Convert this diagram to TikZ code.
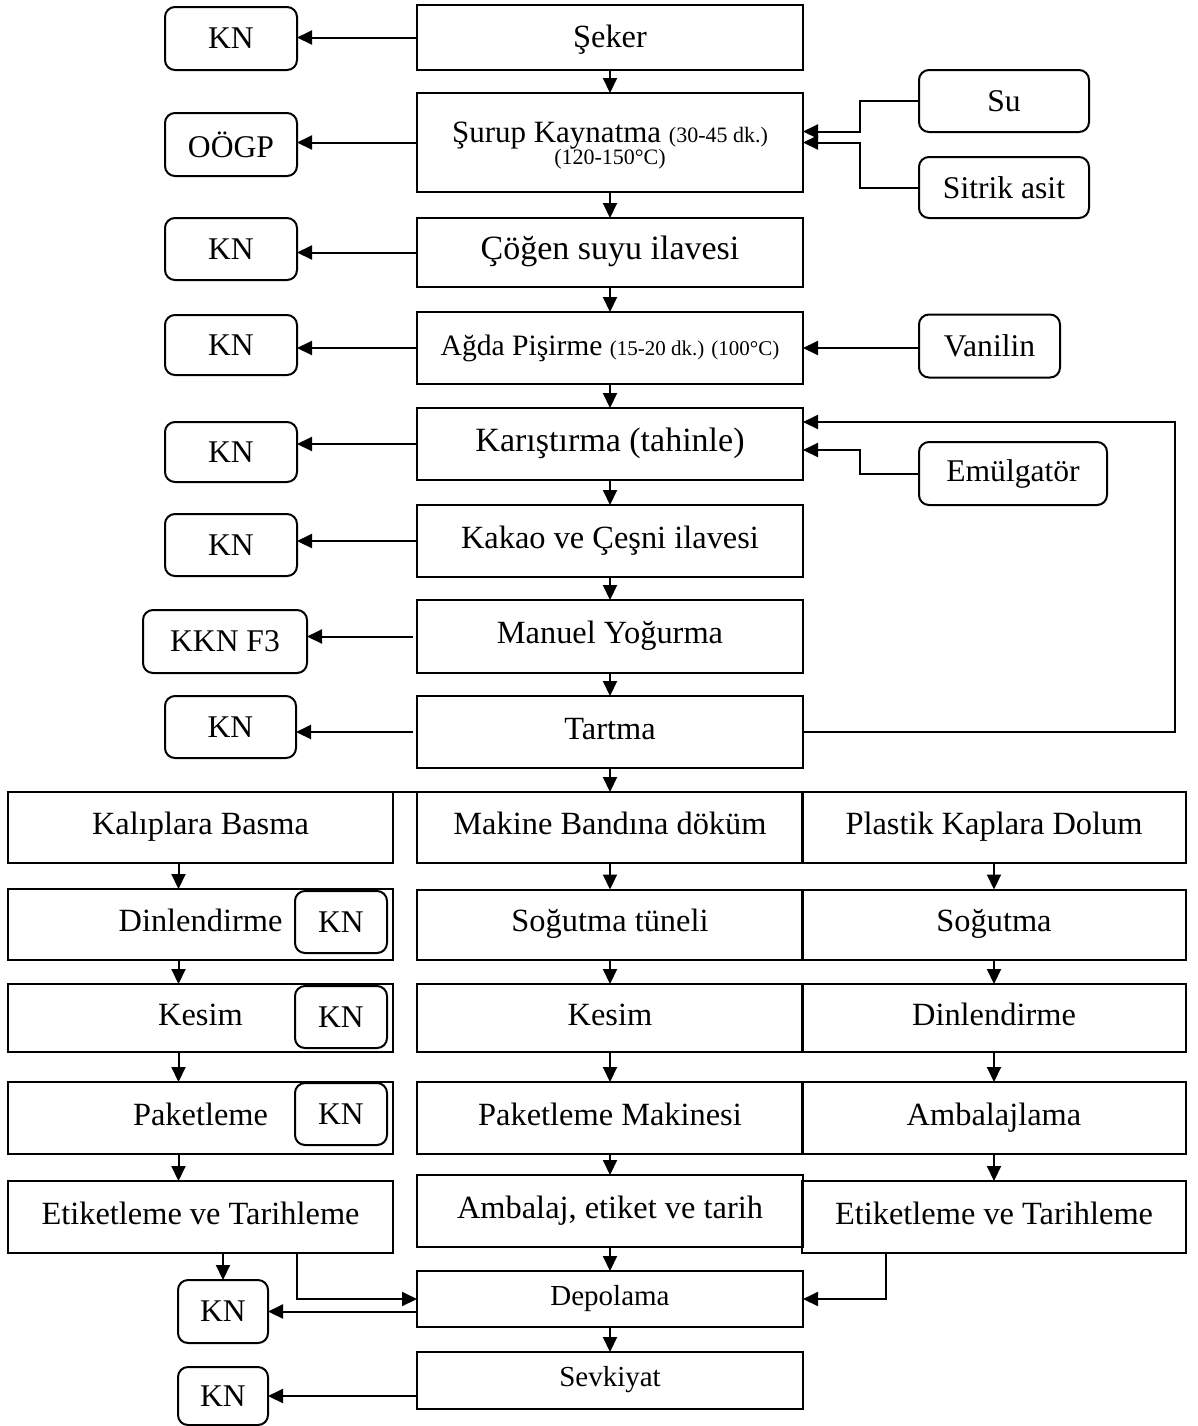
\documentclass[tikz,border=0pt]{standalone}
\usepackage{fontspec}
\setmainfont{Liberation Serif}
\usetikzlibrary{arrows.meta}
\begin{document}
\begin{tikzpicture}[x=0.5pt,y=-0.5pt,
  every node/.style={inner sep=0pt, outer sep=0pt},
  sz/.style 2 args={minimum width=#1*0.5pt, minimum height=#2*0.5pt},
  proc/.style={draw, line width=1pt, rectangle, align=center,
    font=\fontsize{16.2}{18}\selectfont, execute at begin node=\strut},
  note/.style={draw, line width=1pt, rounded corners=5pt, align=center,
    font=\fontsize{15.8}{18}\selectfont},
  arr/.style={line width=1pt, -{Triangle[length=7.5pt,width=7pt]}},
  ln/.style={line width=1pt}]
\newcommand\smtxt[2][11]{{\fontsize{#1}{11}\selectfont #2}}
\fill[white] (0,0) rectangle (1198,1426);
\useasboundingbox (0,0) rectangle (1198,1426);

% main process column
\node[proc, sz={386}{65}, execute at begin node={}] (seker) at (610,37.5) {\raisebox{-1.5pt}{Şeker}};
\node[proc, sz={386}{99}, font=\fontsize{15.5}{11}\selectfont] (surup) at (610,142.5)
  {\rule{0pt}{14pt}Şurup Kaynatma \smtxt{(30-45 dk.)}\\ \smtxt{(120-150°C)}};
\node[proc, sz={386}{69}, font=\fontsize{17}{18}\selectfont] (cogen) at (610,252.5) {Çöğen suyu ilavesi};
\node[proc, sz={386}{72}, font=\fontsize{14.8}{18}\selectfont] (agda) at (610,348)
  {Ağda Pişirme \smtxt[10.5]{(15-20 dk.) (100°C)}};
\node[proc, sz={386}{72}, font=\fontsize{17}{18}\selectfont] (karis) at (610,444) {Karıştırma (tahinle)};
\node[proc, sz={386}{72}] (kakao) at (610,541) {Kakao ve Çeşni ilavesi};
\node[proc, sz={386}{73}] (manuel) at (610,636.5) {Manuel Yoğurma};
\node[proc, sz={386}{72}] (tartma) at (610,732) {Tartma};

% control points on the left
\node[note, sz={132}{63}] (kn1) at (231,38.5) {KN};
\node[note, sz={132}{63}] (oogp) at (231,144.5) {OÖGP};
\node[note, sz={132}{62}] (kn3) at (231,249) {KN};
\node[note, sz={132}{60}] (kn4) at (231,345) {KN};
\node[note, sz={132}{60}] (kn5) at (231,452) {KN};
\node[note, sz={132}{62}] (kn6) at (231,545) {KN};
\node[note, sz={164}{63}] (kkn) at (225,641.5) {KKN F3};
\node[note, sz={131}{62}] (kn8) at (230.5,727) {KN};

\draw[arr] (seker.west) -- (seker.west -| kn1.east);
\draw[arr] (surup.west) -- (surup.west -| oogp.east);
\draw[arr] (cogen.west) -- (cogen.west -| kn3.east);
\draw[arr] (agda.west) -- (agda.west -| kn4.east);
\draw[arr] (karis.west) -- (karis.west -| kn5.east);
\draw[arr] (kakao.west) -- (kakao.west -| kn6.east);
\draw[arr] ([xshift=-2pt]manuel.west) -- (manuel.west -| kkn.east);
\draw[arr] ([xshift=-2pt]tartma.west) -- (tartma.west -| kn8.east);

% inputs on the right
\node[note, sz={170}{62}] (su) at (1004,101) {Su};
\node[note, sz={170}{61}] (sitrik) at (1004,187.5) {Sitrik asit};
\node[note, sz={141}{63}] (vanilin) at (989.5,346) {Vanilin};
\node[note, sz={188}{63}] (emul) at (1013,473.5) {Emülgatör};
\coordinate (inj) at (860,0);
\coordinate (fb) at (1175,0);

\draw[arr] (su.west) -- (su.west -| inj) |- ([yshift=5.5pt]surup.east);
\draw[arr] (sitrik.west) -- (sitrik.west -| inj) |- (surup.east);
\draw[arr] (agda.east -| vanilin.west) -- (agda.east);
\draw[arr] (emul.west) -- (emul.west -| inj) |- ([yshift=-3pt]karis.east);
\draw[arr] (tartma.east) -- (tartma.east -| fb) |- ([yshift=11pt]karis.east);

% main chain
\foreach \a/\b in {seker/surup, surup/cogen, cogen/agda, agda/karis,
                   karis/kakao, kakao/manuel, manuel/tartma}
  \draw[arr] (\a.south) -- (\b.north);

% three production lines
\node[proc, sz={385}{71}] (kal) at (200.5,827.5) {Kalıplara Basma};
\node[proc, sz={386}{71}] (mak) at (610,827.5) {Makine Bandına döküm};
\node[proc, sz={384}{71}] (pla) at (994,827.5) {Plastik Kaplara Dolum};
\draw[ln] (kal.north west) -- (pla.north east);
\draw[arr] (tartma.south) -- (mak.north);

% left line
\node[proc, sz={385}{71}] (ldin) at (200.5,924.5) {Dinlendirme};
\node[note, sz={92}{62}] (lkn1) at (341,922) {KN};
\node[proc, sz={385}{68}] (lkes) at (200.5,1018) {Kesim};
\node[note, sz={92}{62}] (lkn2) at (341,1017) {KN};
\node[proc, sz={385}{72}] (lpak) at (200.5,1118) {Paketleme};
\node[note, sz={92}{62}] (lkn3) at (341,1114) {KN};
\node[proc, sz={385}{72}] (leti) at (200.5,1217) {Etiketleme ve Tarihleme};
\foreach \a/\b in {kal/ldin, ldin/lkes, lkes/lpak, lpak/leti}
  \draw[arr] ([xshift=-11pt]\a.south) -- ([xshift=-11pt]\b.north);

% middle line
\node[proc, sz={386}{70}] (msog) at (610,924.5) {Soğutma tüneli};
\node[proc, sz={386}{68}] (mkes) at (610,1018) {Kesim};
\node[proc, sz={386}{72}] (mpak) at (610,1118) {Paketleme Makinesi};
\node[proc, sz={386}{72}] (mamb) at (610,1211) {Ambalaj, etiket ve tarih};
\node[proc, sz={386}{56}, font=\fontsize{14.5}{16}\selectfont, execute at begin node={}] (depo) at (610,1299) {Depolama};
\node[proc, sz={386}{57}, font=\fontsize{14.5}{16}\selectfont, execute at begin node={}] (sevk) at (610,1380.5) {Sevkiyat};
\foreach \a/\b in {mak/msog, msog/mkes, mkes/mpak, mpak/mamb, mamb/depo, depo/sevk}
  \draw[arr] (\a.south) -- (\b.north);

% right line
\node[proc, sz={384}{70}] (rsog) at (994,924.5) {Soğutma};
\node[proc, sz={384}{68}] (rdin) at (994,1018) {Dinlendirme};
\node[proc, sz={384}{72}] (ramb) at (994,1118) {Ambalajlama};
\node[proc, sz={384}{72}] (reti) at (994,1217) {Etiketleme ve Tarihleme};
\foreach \a/\b in {pla/rsog, rsog/rdin, rdin/ramb, ramb/reti}
  \draw[arr] (\a.south) -- (\b.north);

% storage and dispatch
\node[note, sz={90}{63}] (knd) at (223,1311.5) {KN};
\node[note, sz={90}{58}] (kns) at (223,1396) {KN};
\coordinate (lout) at (297,0);
\coordinate (rout) at (886,0);
\draw[arr] (knd.north |- leti.south) -- (knd.north);
\draw[arr] (leti.south -| lout) |- (depo.west);
\draw[arr] (knd.east -| depo.west) -- (knd.east);
\draw[arr] (reti.south -| rout) |- (depo.east);
\draw[arr] (kns.east -| sevk.west) -- (kns.east);
\end{tikzpicture}
\end{document}
